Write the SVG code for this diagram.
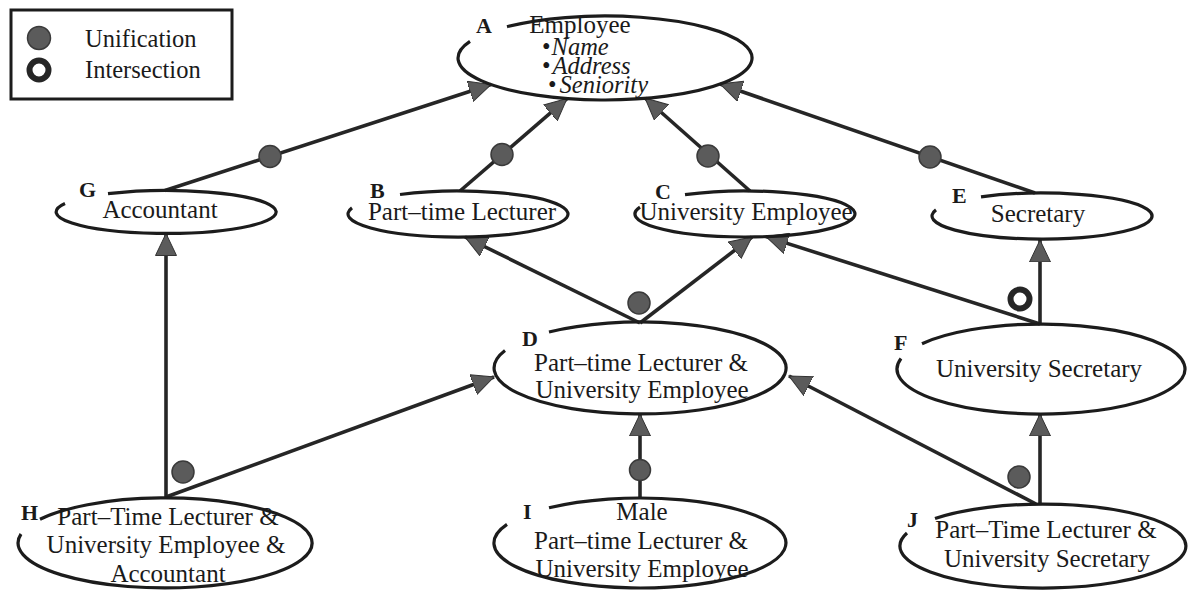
<svg xmlns="http://www.w3.org/2000/svg" width="1188" height="591" viewBox="0 0 1188 591">
<defs>
<marker id="arrow" markerUnits="userSpaceOnUse" viewBox="0 0 23 22" markerWidth="23" markerHeight="22" refX="22" refY="11" orient="auto"><path d="M0,0.5 L22,11 L0,21.5 z" fill="#5b5b5b" stroke="#333" stroke-width="1"/></marker>
</defs>
<style>
.ell{fill:none;stroke:#1c1c1c;stroke-width:3.2}
.t{font-family:"Liberation Serif","Times New Roman",serif;font-size:25px;fill:#1a1a1a;text-anchor:middle}
.ts{font-family:"Liberation Serif","Times New Roman",serif;font-size:24.5px;fill:#1a1a1a}
.lbl{font-family:"Liberation Serif","Times New Roman",serif;font-size:22px;font-weight:bold;fill:#1a1a1a}
.edge{stroke:#262626;stroke-width:3.6;fill:none;marker-end:url(#arrow)}
.dot{fill:#5b5b5b;stroke:#3a3a3a;stroke-width:1.5}
.ring{fill:none;stroke:#262626;stroke-width:6}
</style>
<rect x="0" y="0" width="1188" height="591" fill="#ffffff"/>
<g id="legend">
<rect x="11" y="10" width="221" height="89" fill="none" stroke="#1c1c1c" stroke-width="3"/>
<circle class="dot" cx="39" cy="38" r="11.5"/>
<circle class="ring" cx="39" cy="70" r="9.5"/>
<text class="ts" x="85" y="47" font-size="25.5">Unification</text>
<text class="ts" x="85" y="78" font-size="25.5">Intersection</text>
</g>
<g id="connectors">
<path class="edge" d="M165,190.5 L491,84.5"/>
<path class="edge" d="M460,191 L567,98.6"/>
<path class="edge" d="M750,191 L645,98"/>
<path class="edge" d="M1035,193 L720,84"/>
<path class="edge" d="M640,323 L465,237"/>
<path class="edge" d="M640,323 L752,237"/>
<path class="edge" d="M1040,324 L766,236.6"/>
<path class="edge" d="M1040,324 L1040,240"/>
<path class="edge" d="M166,497 L166,233.5"/>
<path class="edge" d="M166,497 L494,377"/>
<path class="edge" d="M640,498 L640,414"/>
<path class="edge" d="M1036,504 L789,376"/>
<path class="edge" d="M1040,504 L1040,414"/>
<circle class="dot" cx="270" cy="156.5" r="11"/>
<circle class="dot" cx="502" cy="154.5" r="11"/>
<circle class="dot" cx="708" cy="156" r="11"/>
<circle class="dot" cx="930" cy="157" r="11"/>
<circle class="dot" cx="639" cy="303" r="11"/>
<circle class="ring" cx="1020" cy="299" r="9.5"/>
<circle class="dot" cx="183" cy="472" r="11"/>
<circle class="dot" cx="640" cy="470" r="10.5"/>
<circle class="dot" cx="1019" cy="477" r="11"/>
</g>
<g id="node-A">
<path class="ell" d="M507,26.7 A147,42 0 1 1 470,41.4"/>
<text class="lbl" x="476" y="33">A</text>
<text class="t" x="580" y="33">Employee</text>
<text class="ts" x="542" y="55">•<tspan font-style="italic" dx="1">Name</tspan></text>
<text class="ts" x="542" y="74">•<tspan font-style="italic" dx="2">Address</tspan></text>
<text class="ts" x="548" y="93">•<tspan font-style="italic" dx="3">Seniority</tspan></text>
</g>
<g id="node-G">
<path class="ell" d="M108,193.7 A110,21.5 0 1 1 65,203.5"/>
<text class="lbl" x="79" y="197">G</text>
<text class="t" x="160" y="218">Accountant</text>
</g>
<g id="node-B">
<path class="ell" d="M400,194.5 A110,23 0 1 1 352,207.9"/>
<text class="lbl" x="370" y="198">B</text>
<text class="t" x="462" y="220">Part–time Lecturer</text>
</g>
<g id="node-C">
<path class="ell" d="M685,194.7 A110,23 0 1 1 640,207.1"/>
<text class="lbl" x="655" y="199">C</text>
<text class="t" x="746" y="220">University Employee</text>
</g>
<g id="node-E">
<path class="ell" d="M981,196.9 A110,23 0 1 1 936,209.9"/>
<text class="lbl" x="952" y="203">E</text>
<text class="t" x="1038" y="222">Secretary</text>
</g>
<g id="node-D">
<path class="ell" d="M549,332 A146,46 0 1 1 505,350.5"/>
<text class="lbl" x="522" y="346">D</text>
<text class="t" x="641" y="371" font-size="24.5">Part–time Lecturer &amp;</text>
<text class="t" x="642" y="398" font-size="24.5">University Employee</text>
</g>
<g id="node-F">
<path class="ell" d="M922,343.7 A144,45 0 1 1 901,358.5"/>
<text class="lbl" x="894" y="350">F</text>
<text class="t" x="1039" y="377">University Secretary</text>
</g>
<g id="node-H">
<path class="ell" d="M40,519.3 A147,45 0 1 1 21,534"/>
<text class="lbl" x="21" y="520">H</text>
<text class="t" x="168" y="525" font-size="24.5">Part–Time Lecturer &amp;</text>
<text class="t" x="166" y="553" font-size="24.5">University Employee &amp;</text>
<text class="t" x="168" y="582" font-size="24.5">Accountant</text>
</g>
<g id="node-I">
<path class="ell" d="M549,507.8 A146,45 0 1 1 507,524.4"/>
<text class="lbl" x="523" y="519">I</text>
<text class="t" x="642" y="520" font-size="24.5">Male</text>
<text class="t" x="641" y="549" font-size="24.5">Part–time Lecturer &amp;</text>
<text class="t" x="642" y="577" font-size="24.5">University Employee</text>
</g>
<g id="node-J">
<path class="ell" d="M935,518.5 A143,42 0 1 1 907,533"/>
<text class="lbl" x="907" y="527">J</text>
<text class="t" x="1046" y="538" font-size="24.5">Part–Time Lecturer &amp;</text>
<text class="t" x="1047" y="567" font-size="24.5">University Secretary</text>
</g>
</svg>
